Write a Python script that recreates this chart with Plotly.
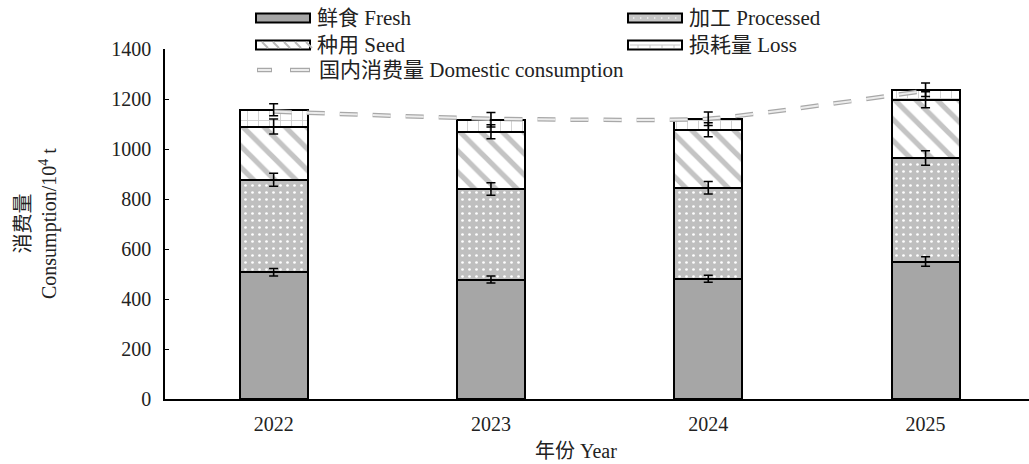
import plotly.graph_objects as go

# Consumption by use, 10^4 t
years = ["2022", "2023", "2024", "2025"]
fresh = [507, 478, 481, 550]
processed = [370, 362, 364, 414]
seed = [213, 229, 232, 233]
loss = [67, 48, 44, 40]
domestic = [1150, 1121, 1121, 1233]

fresh_err = [15, 14, 14, 19]
processed_err = [26, 25, 25, 29]
seed_err = [30, 28, 28, 32]
loss_err = [24, 29, 27, 27]

SERIF = "Liberation Serif, Times New Roman, Noto Sans CJK SC, serif"
FS = 20
BAR_W = 0.313

fig = go.Figure()
fig.add_bar(x=years, y=fresh, name="鲜食 Fresh", width=BAR_W,
            marker=dict(color="#a6a6a6", line=dict(color="black", width=2)))
fig.add_bar(x=years, y=processed, name="加工 Processed", width=BAR_W,
            marker=dict(color="#bfbfbf", line=dict(color="black", width=2),
                        pattern=dict(shape=".", fgcolor="white", bgcolor="#bfbfbf",
                                     size=7, solidity=0.12, fillmode="replace")))
fig.add_bar(x=years, y=seed, name="种用 Seed", width=BAR_W,
            marker=dict(color="white", line=dict(color="black", width=2),
                        pattern=dict(shape="\\", fgcolor="#c4c4c4", bgcolor="white",
                                     size=15, solidity=0.35, fillmode="replace")))
fig.add_bar(x=years, y=loss, name="损耗量 Loss", width=BAR_W,
            marker=dict(color="white", line=dict(color="black", width=2),
                        pattern=dict(shape="+", fgcolor="#cccccc", bgcolor="white",
                                     size=11, solidity=0.15, fillmode="replace")))

# Domestic consumption: outlined dashed curve (outer grey stroke + light core)
fig.add_scatter(x=years, y=domestic, mode="lines", name="国内消费量 Domestic consumption",
                line=dict(color="#a8a8a8", width=4.5, dash="18px,15px",
                          shape="spline", smoothing=0.5),
                hoverinfo="skip")
fig.add_scatter(x=years, y=domestic, mode="lines", showlegend=False,
                line=dict(color="#ececec", width=2, dash="18px,15px",
                          shape="spline", smoothing=0.5))

# Error bars at the top of each stacked segment, drawn above all bars
level = [0] * len(years)
for seg, e in [(fresh, fresh_err), (processed, processed_err),
               (seed, seed_err), (loss, loss_err)]:
    level = [a + b for a, b in zip(level, seg)]
    fig.add_scatter(x=years, y=level, mode="markers", showlegend=False,
                    marker=dict(opacity=0, size=1), hoverinfo="skip",
                    error_y=dict(type="data", array=e, visible=True, color="black",
                                 thickness=1.6, width=4.5))

# Hand-drawn legend: wide swatches with labels, two columns + one row
shapes = []
annotations = []
col_x = [256, 628]
row_y = [18, 45]
W, H = 1029, 464
L, R, T, B = 165, 0, 49, 65
pw, ph = W - L - R, H - T - B


def px(x):
    return (x - L) / pw


def py(y):
    return (H - B - y) / ph


swatches = [
    ("鲜食 Fresh", "#a6a6a6", col_x[0], row_y[0]),
    ("加工 Processed", "#c6c6c6", col_x[1], row_y[0]),
    ("种用 Seed", "white", col_x[0], row_y[1]),
    ("损耗量 Loss", "white", col_x[1], row_y[1]),
]
sw_w, sw_h = 54, 9
for label, fill, x0, yc in swatches:
    shapes.append(dict(type="rect", xref="paper", yref="paper",
                       x0=px(x0), x1=px(x0 + sw_w),
                       y0=py(yc + sw_h / 2), y1=py(yc - sw_h / 2),
                       fillcolor=fill, line=dict(color="black", width=2)))
    annotations.append(dict(text=label, xref="paper", yref="paper",
                            x=px(x0 + sw_w + 5), y=py(yc), xanchor="left",
                            yanchor="middle", showarrow=False,
                            font=dict(family=SERIF, size=21, color="#222")))

# Seed swatch stripes
for k in range(5):
    xs = col_x[0] + 6 + k * 11
    shapes.append(dict(type="line", xref="paper", yref="paper",
                       x0=px(xs), x1=px(xs + 6), y0=py(row_y[1] - 3), y1=py(row_y[1] + 3),
                       line=dict(color="#bbbbbb", width=2)))
# Loss swatch ticks
shapes.append(dict(type="line", xref="paper", yref="paper",
                   x0=px(col_x[1] + 2), x1=px(col_x[1] + sw_w - 2),
                   y0=py(row_y[1]), y1=py(row_y[1]),
                   line=dict(color="#c8c8c8", width=1)))
for k in range(4):
    xs = col_x[1] + 10 + k * 12
    shapes.append(dict(type="line", xref="paper", yref="paper",
                       x0=px(xs), x1=px(xs), y0=py(row_y[1]), y1=py(row_y[1] + 3),
                       line=dict(color="#c8c8c8", width=1)))
# Processed swatch dots
for k in range(7):
    xs = col_x[1] + 5 + k * 7
    shapes.append(dict(type="circle", xref="paper", yref="paper",
                       x0=px(xs), x1=px(xs + 1.5), y0=py(row_y[0] + 0.8), y1=py(row_y[0] - 0.8),
                       fillcolor="white", line=dict(width=0)))

# Domestic consumption legend entry
for a, b in [(257, 272), (290, 310)]:
    shapes.append(dict(type="line", xref="paper", yref="paper",
                       x0=px(a), x1=px(b), y0=py(70), y1=py(70),
                       line=dict(color="#a8a8a8", width=4.5)))
    shapes.append(dict(type="line", xref="paper", yref="paper",
                       x0=px(a + 1), x1=px(b - 1), y0=py(70), y1=py(70),
                       line=dict(color="#ececec", width=2)))
annotations.append(dict(text="国内消费量 Domestic consumption", xref="paper", yref="paper",
                        x=px(317), y=py(70), xanchor="left", yanchor="middle",
                        showarrow=False, font=dict(family=SERIF, size=21, color="#222")))

# Axis titles
annotations.append(dict(text="消费量<br>Consumption/10<sup>4</sup> t", xref="paper", yref="paper",
                        x=0, y=0.5, xshift=-129, xanchor="center", yanchor="middle",
                        textangle=-90, showarrow=False,
                        font=dict(family=SERIF, size=FS, color="#222")))
annotations.append(dict(text="年份 Year", xref="paper", yref="paper",
                        x=px(576), y=0, yshift=-52, xanchor="center", yanchor="middle",
                        showarrow=False, font=dict(family=SERIF, size=FS, color="#222")))

fig.update_layout(
    barmode="stack",
    width=W, height=H,
    margin=dict(l=L, r=R, t=T, b=B),
    paper_bgcolor="white", plot_bgcolor="white",
    showlegend=False,
    font=dict(family=SERIF, size=FS, color="#222"),
    shapes=shapes, annotations=annotations,
    xaxis=dict(type="category", range=[-0.5, 3.476], showline=True, linecolor="black",
               linewidth=1.5, ticks="", showgrid=False, ticklabelstandoff=6,
               tickfont=dict(family=SERIF, size=FS, color="#222")),
    yaxis=dict(range=[0, 1400], dtick=200, showline=True, linecolor="black", linewidth=1.5,
               ticks="inside", ticklen=4, tickcolor="black", showgrid=False, zeroline=False,
               ticklabelstandoff=8,
               tickfont=dict(family=SERIF, size=FS, color="#222")),
)

fig.write_html("out.html")
